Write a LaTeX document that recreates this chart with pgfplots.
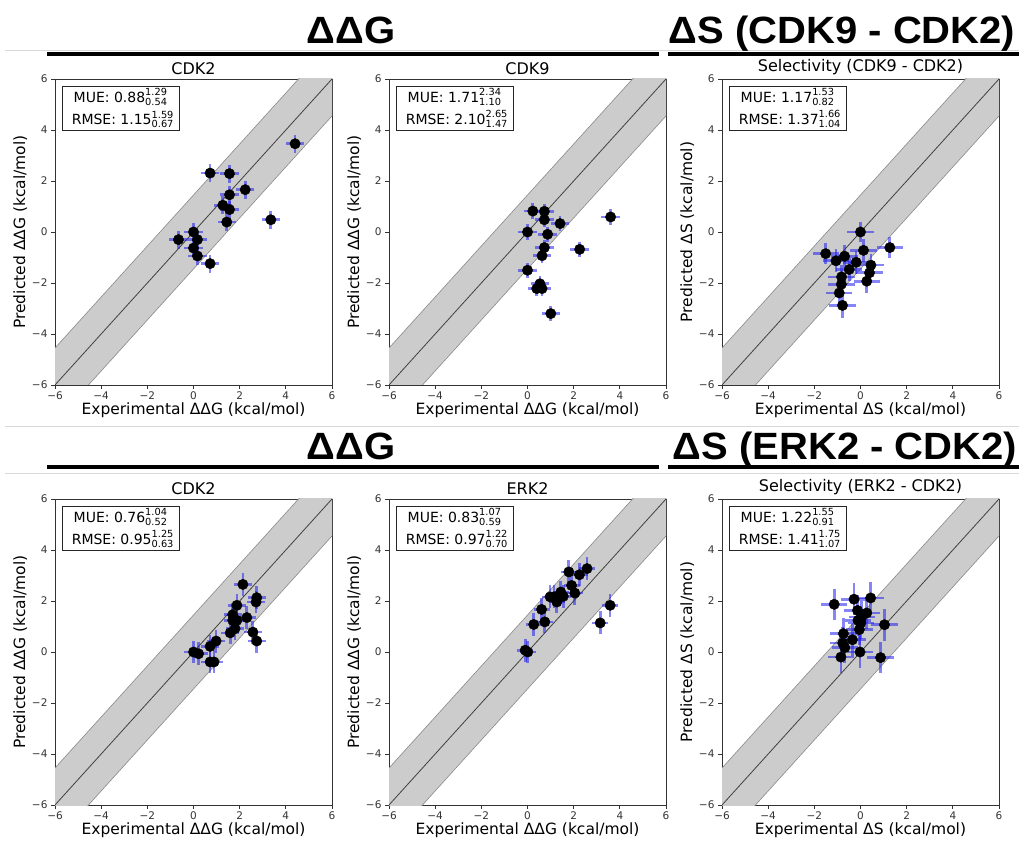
\documentclass[border=0pt]{standalone}
\usepackage{pgfplots}
\pgfplotsset{compat=1.18}
\usepackage{pgfplotstable}
\usepackage{amsmath}
\usepackage{fontspec}
\setmainfont{DejaVu Sans}
\newfontfamily\hfont{Liberation Sans}
\definecolor{bandc}{HTML}{CCCCCC}
\definecolor{bandedge}{HTML}{8A8A8A}
\definecolor{errc}{HTML}{2020F0}
\definecolor{spine}{HTML}{333333}
\newcommand{\tl}[1]{\text{\fontsize{10.5}{11}\selectfont\color{spine}#1}}

% Panel 1: CDK2 (ddG)
\pgfplotstableread{
x y ex ey
4.40 3.46 0.40 0.35
0.72 2.31 0.40 0.35
1.56 2.29 0.40 0.35
2.24 1.66 0.40 0.35
1.56 1.46 0.40 0.35
1.27 1.05 0.40 0.35
1.56 0.88 0.40 0.35
1.44 0.39 0.40 0.35
3.35 0.48 0.40 0.35
0.00 0.00 0.40 0.35
-0.65 -0.30 0.40 0.35
0.17 -0.30 0.40 0.35
0.00 -0.63 0.40 0.35
0.17 -0.94 0.40 0.35
0.72 -1.24 0.40 0.35
}\tA
% Panel 2: CDK9
\pgfplotstableread{
x y ex ey
0.23 0.82 0.40 0.30
0.73 0.81 0.40 0.30
0.73 0.48 0.40 0.30
1.41 0.33 0.40 0.30
3.60 0.59 0.40 0.30
0.00 0.00 0.40 0.30
0.87 -0.09 0.40 0.30
0.73 -0.61 0.40 0.30
0.63 -0.93 0.40 0.30
2.26 -0.68 0.40 0.30
0.00 -1.50 0.40 0.30
0.54 -2.03 0.40 0.30
0.40 -2.22 0.40 0.30
0.63 -2.22 0.40 0.30
1.01 -3.20 0.40 0.30
}\tB
% Panel 3: selectivity CDK9-CDK2
\pgfplotstableread{
x y ex ey
0.00 0.00 0.57 0.40
1.27 -0.61 0.57 0.40
-1.51 -0.85 0.57 0.40
0.13 -0.72 0.57 0.45
-0.69 -0.95 0.57 0.45
-1.06 -1.13 0.57 0.45
-0.19 -1.19 0.57 0.45
0.45 -1.30 0.57 0.45
-0.49 -1.47 0.57 0.45
0.39 -1.60 0.57 0.45
-0.82 -1.76 0.57 0.45
0.27 -1.93 0.57 0.45
-0.83 -2.05 0.57 0.45
-0.92 -2.39 0.57 0.45
-0.78 -2.88 0.57 0.50
}\tC
% Panel 4: CDK2 (ddG), second set
\pgfplotstableread{
x y ex ey
2.14 2.65 0.40 0.45
2.74 2.13 0.40 0.45
2.71 1.96 0.40 0.45
1.88 1.83 0.40 0.45
1.70 1.46 0.40 0.45
1.70 1.24 0.40 0.45
1.88 1.24 0.40 0.45
2.31 1.35 0.40 0.45
1.80 0.92 0.40 0.45
1.59 0.75 0.40 0.45
2.57 0.78 0.40 0.45
2.74 0.43 0.40 0.45
0.98 0.43 0.40 0.45
0.72 0.22 0.40 0.45
0.00 0.00 0.40 0.45
0.22 -0.07 0.40 0.45
0.72 -0.39 0.40 0.45
0.89 -0.39 0.40 0.45
}\tD
% Panel 5: ERK2
\pgfplotstableread{
x y ex ey
2.58 3.27 0.35 0.45
2.25 3.03 0.35 0.45
1.79 3.14 0.35 0.45
1.91 2.61 0.35 0.45
1.44 2.35 0.35 0.45
2.05 2.31 0.35 0.45
1.55 2.18 0.35 0.45
0.98 2.16 0.35 0.45
1.15 2.16 0.35 0.45
1.27 1.96 0.35 0.45
3.58 1.83 0.35 0.45
0.61 1.67 0.35 0.45
0.27 1.08 0.35 0.45
0.75 1.18 0.35 0.45
3.15 1.14 0.35 0.45
-0.10 0.07 0.35 0.45
0.01 0.00 0.35 0.45
}\tE
% Panel 6: selectivity ERK2-CDK2
\pgfplotstableread{
x y ex ey
-1.14 1.87 0.57 0.62
-0.28 2.07 0.57 0.62
0.44 2.12 0.57 0.62
-0.13 1.63 0.57 0.62
0.27 1.53 0.57 0.62
0.05 1.37 0.57 0.62
-0.11 1.24 0.57 0.62
0.01 1.14 0.57 0.62
-0.05 0.88 0.57 0.62
1.04 1.07 0.57 0.62
-0.74 0.72 0.57 0.62
-0.35 0.48 0.57 0.62
-0.77 0.35 0.57 0.62
-0.68 0.17 0.57 0.62
-0.02 0.00 0.57 0.62
-0.85 -0.20 0.57 0.62
0.87 -0.22 0.57 0.62
}\tF

\pgfplotsset{
  panel/.style={
    scale only axis, width=277pt, height=306pt,
    xmin=-6, xmax=6, ymin=-6, ymax=6,
    xtick={-6,-4,-2,0,2,4,6}, ytick={-6,-4,-2,0,2,4,6},
    xticklabels={\tl{−6},\tl{−4},\tl{−2},\tl{0},\tl{2},\tl{4},\tl{6}},
    yticklabels={\tl{−6},\tl{−4},\tl{−2},\tl{0},\tl{2},\tl{4},\tl{6}},
    xtick pos=left, ytick pos=left, tick align=outside,
    major tick length=4pt,
    tick style={spine, line width=0.8pt},
    axis line style={spine, line width=0.9pt},
    xticklabel style={yshift=1pt},
    title style={font=\fontsize{16}{18}\selectfont, yshift=-5pt},
    label style={font=\fontsize{15.5}{17}\selectfont},
    xlabel style={yshift=4pt},
    ylabel style={yshift=-2pt},
    clip=true,
  },
  errs/.style={draw=none, mark=none, forget plot,
    error bars/.cd, x dir=both, x explicit, y dir=both, y explicit,
    error mark=none,
    error bar style={draw=errc, line width=2.7pt, opacity=0.55}},
  pts/.style={only marks, mark=*, mark size=5.2pt, black, forget plot},
}

\newcommand{\band}{%
  \addplot[fill=bandc, draw=none, forget plot] coordinates {(-8,-9.45) (8,6.55) (8,9.45) (-8,-6.55)} -- cycle;
  \addplot[bandedge, line width=0.6pt, forget plot] coordinates {(-8,-9.45) (8,6.55)};
  \addplot[bandedge, line width=0.6pt, forget plot] coordinates {(-8,-6.55) (8,9.45)};
  \addplot[black!75, line width=0.8pt, forget plot] coordinates {(-8,-8) (8,8)};
}
\newcommand{\statbox}[6]{%
  \node[draw=black!85, fill=white, anchor=north west, align=center, inner xsep=5pt, inner ysep=2.5pt,
    font=\fontsize{14}{22}\selectfont, line width=0.8pt]
    at (rel axis cs:0.025,0.978)
    {MUE: $\text{#1}^{\text{#2}}_{\text{#3}}$\\ \ RMSE: $\text{#4}^{\text{#5}}_{\text{#6}}$};
}
\newcommand{\hdr}{\hfont\bfseries\fontsize{40}{40}\selectfont}

\begin{document}
\begin{tikzpicture}
\useasboundingbox (0pt,0pt) rectangle (1019pt,840pt);

% headers row 1
\draw[black!15, line width=0.8pt] (5pt,790pt) -- (1019pt,790pt);
\draw[black, line width=4pt] (47pt,786pt) -- (659pt,786pt);
\draw[black, line width=4pt] (668pt,786pt) -- (1019pt,786pt);
\node[anchor=base, font=\hdr, yscale=0.95, transform shape] at (351pt,796pt) {ΔΔG};
\node[anchor=base, font=\hdr, yscale=0.95, transform shape] at (842pt,796pt) {ΔS (CDK9 - CDK2)};

% headers row 2
\draw[black!15, line width=0.8pt] (5pt,414pt) -- (1019pt,414pt);
\draw[black!15, line width=0.8pt] (5pt,367pt) -- (1019pt,367pt);
\draw[black, line width=4pt] (47pt,373pt) -- (659pt,373pt);
\draw[black, line width=4pt] (668pt,373pt) -- (1019pt,373pt);
\node[anchor=base, font=\hdr, yscale=0.95, transform shape] at (351pt,380pt) {ΔΔG};
\node[anchor=base, font=\hdr, yscale=0.95, transform shape] at (845pt,380pt) {ΔS (ERK2 - CDK2)};

% Row 1
\begin{axis}[panel, at={(55pt,761pt)}, anchor=north west, title={CDK2},
  xlabel={Experimental ΔΔG (kcal/mol)}, ylabel={Predicted ΔΔG (kcal/mol)}]
\band
\addplot[errs] table[x=x, y=y, x error=ex, y error=ey] {\tA};
\addplot[pts] table[x=x, y=y] {\tA};
\statbox{0.88}{1.29}{0.54}{1.15}{1.59}{0.67}
\end{axis}

\begin{axis}[panel, at={(389pt,761pt)}, anchor=north west, title={CDK9},
  xlabel={Experimental ΔΔG (kcal/mol)}, ylabel={Predicted ΔΔG (kcal/mol)}]
\band
\addplot[errs] table[x=x, y=y, x error=ex, y error=ey] {\tB};
\addplot[pts] table[x=x, y=y] {\tB};
\statbox{1.71}{2.34}{1.10}{2.10}{2.65}{1.47}
\end{axis}

\begin{axis}[panel, at={(722pt,761pt)}, anchor=north west, title={Selectivity (CDK9 - CDK2)},
  xlabel={Experimental ΔS (kcal/mol)}, ylabel={Predicted ΔS (kcal/mol)}]
\band
\addplot[errs] table[x=x, y=y, x error=ex, y error=ey] {\tC};
\addplot[pts] table[x=x, y=y] {\tC};
\statbox{1.17}{1.53}{0.82}{1.37}{1.66}{1.04}
\end{axis}

% Row 2
\begin{axis}[panel, at={(55pt,341pt)}, anchor=north west, title={CDK2},
  xlabel={Experimental ΔΔG (kcal/mol)}, ylabel={Predicted ΔΔG (kcal/mol)}]
\band
\addplot[errs] table[x=x, y=y, x error=ex, y error=ey] {\tD};
\addplot[pts] table[x=x, y=y] {\tD};
\statbox{0.76}{1.04}{0.52}{0.95}{1.25}{0.63}
\end{axis}

\begin{axis}[panel, at={(389pt,341pt)}, anchor=north west, title={ERK2},
  xlabel={Experimental ΔΔG (kcal/mol)}, ylabel={Predicted ΔΔG (kcal/mol)}]
\band
\addplot[errs] table[x=x, y=y, x error=ex, y error=ey] {\tE};
\addplot[pts] table[x=x, y=y] {\tE};
\statbox{0.83}{1.07}{0.59}{0.97}{1.22}{0.70}
\end{axis}

\begin{axis}[panel, at={(722pt,341pt)}, anchor=north west, title={Selectivity (ERK2 - CDK2)},
  xlabel={Experimental ΔS (kcal/mol)}, ylabel={Predicted ΔS (kcal/mol)}]
\band
\addplot[errs] table[x=x, y=y, x error=ex, y error=ey] {\tF};
\addplot[pts] table[x=x, y=y] {\tF};
\statbox{1.22}{1.55}{0.91}{1.41}{1.75}{1.07}
\end{axis}
\end{tikzpicture}
\end{document}
